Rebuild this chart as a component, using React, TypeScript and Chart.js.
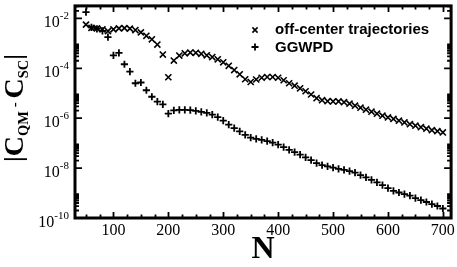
import React, { useEffect, useRef } from 'react';
import { Chart, registerables } from 'chart.js';

Chart.register(...registerables);

// N values (x)
const nValues = [
  50, 60, 70, 80, 90, 100, 110, 120, 130, 140, 150, 160, 170, 180, 190, 200, 210, 220, 230, 240,
  250, 260, 270, 280, 290, 300, 310, 320, 330, 340, 350, 360, 370, 380, 390, 400, 410, 420, 430, 440,
  450, 460, 470, 480, 490, 500, 510, 520, 530, 540, 550, 560, 570, 580, 590, 600, 610, 620, 630, 640,
  650, 660, 670, 680, 690, 700,
];

// |C_QM - C_SC| for off-center trajectories (x markers)
const offCenter = [
  5.62e-3, 4.17e-3, 3.98e-3, 3.63e-3, 3.09e-3, 3.63e-3, 3.98e-3, 4.07e-3, 3.89e-3, 3.39e-3,
  2.75e-3, 2.0e-3, 1.45e-3, 8.91e-4, 3.55e-4, 4.37e-5, 2.04e-4, 3.24e-4, 3.98e-4, 4.27e-4,
  4.17e-4, 3.8e-4, 3.31e-4, 2.82e-4, 2.29e-4, 1.74e-4, 1.26e-4, 8.51e-5, 5.75e-5, 3.63e-5,
  2.82e-5, 3.55e-5, 4.17e-5, 4.47e-5, 4.47e-5, 4.17e-5, 3.31e-5, 2.51e-5, 2.0e-5, 1.58e-5,
  1.2e-5, 8.91e-6, 6.31e-6, 5.25e-6, 4.79e-6, 4.68e-6, 4.68e-6, 4.37e-6, 3.8e-6, 3.16e-6,
  2.63e-6, 2.19e-6, 1.82e-6, 1.51e-6, 1.26e-6, 1.07e-6, 9.33e-7, 7.94e-7, 6.76e-7, 5.75e-7,
  5.01e-7, 4.37e-7, 3.8e-7, 3.31e-7, 3.02e-7, 2.69e-7,
];

// |C_QM - C_SC| for GGWPD (+ markers)
const ggwpd = [
  1.78e-2, 4.37e-3, 3.8e-3, 3.16e-3, 1.78e-3, 3.31e-4, 4.17e-4, 1.45e-4, 7.41e-5, 2.51e-5,
  2.69e-5, 1.32e-5, 7.24e-6, 4.57e-6, 3.55e-6, 1.51e-6, 2.04e-6, 2.14e-6, 2.14e-6, 2.09e-6,
  1.95e-6, 1.78e-6, 1.62e-6, 1.38e-6, 1.1e-6, 7.94e-7, 5.5e-7, 3.98e-7, 2.95e-7, 2.14e-7,
  1.66e-7, 1.48e-7, 1.35e-7, 1.2e-7, 1.05e-7, 8.71e-8, 6.92e-8, 5.37e-8, 4.37e-8, 3.47e-8,
  2.69e-8, 2.09e-8, 1.58e-8, 1.32e-8, 1.17e-8, 1.05e-8, 9.33e-9, 8.51e-9, 7.59e-9, 6.61e-9,
  5.25e-9, 4.27e-9, 3.39e-9, 2.69e-9, 2.09e-9, 1.58e-9, 1.23e-9, 1.05e-9, 9.12e-10, 7.94e-10,
  6.31e-10, 5.25e-10, 4.37e-10, 3.63e-10, 3.02e-10, 2.4e-10,
];

const seriesLabels = ['off-center trajectories', 'GGWPD'];
const xTickLabels = [100, 200, 300, 400, 500, 600, 700];
const yTickExponents = [-2, -4, -6, -8, -10];
const xTitle = 'N';

const X_MIN = 30;
const X_MAX = 715;
const Y_MIN = 1e-10;
const Y_MAX = Math.pow(10, -1.5);

const SERIF = '"Liberation Serif", "DejaVu Serif", serif';
const SANS = '"Liberation Sans", Arial, sans-serif';

const decorPlugin = {
  id: 'decor',
  afterDatasetsDraw(chart: any) {
    const { ctx, chartArea: a, scales } = chart;
    const x = scales.x;
    const y = scales.y;
    ctx.save();
    ctx.strokeStyle = '#000';
    ctx.fillStyle = '#000';

    // ticks
    ctx.lineWidth = 1.8;
    ctx.beginPath();
    for (let v = 50; v <= X_MAX; v += 25) {
      const px = Math.round(x.getPixelForValue(v)) + 0.5;
      const len = v % 100 === 0 ? 6 : 3.5;
      ctx.moveTo(px, a.bottom);
      ctx.lineTo(px, a.bottom - len);
      ctx.moveTo(px, a.top);
      ctx.lineTo(px, a.top + len);
    }
    for (const e of yTickExponents) {
      const base = Math.pow(10, e);
      const py = y.getPixelForValue(base);
      ctx.moveTo(a.left, py);
      ctx.lineTo(a.left + 7, py);
      ctx.moveTo(a.right, py);
      ctx.lineTo(a.right - 7, py);
      for (let k = 2; k <= 9; k++) {
        const v = k * base;
        if (v > Y_MAX) break;
        const pm = y.getPixelForValue(v);
        ctx.moveTo(a.left, pm);
        ctx.lineTo(a.left + 4, pm);
        ctx.moveTo(a.right, pm);
        ctx.lineTo(a.right - 4, pm);
      }
    }
    ctx.stroke();

    // frame
    ctx.lineWidth = 3;
    ctx.strokeRect(a.left, a.top, a.right - a.left, a.bottom - a.top);

    // x tick labels
    ctx.font = '16px ' + SERIF;
    ctx.textAlign = 'center';
    ctx.textBaseline = 'alphabetic';
    for (const v of xTickLabels) {
      ctx.fillText(String(v), x.getPixelForValue(v), a.bottom + 17);
    }

    // y tick labels 10^e
    ctx.textAlign = 'left';
    for (const e of yTickExponents) {
      const py = y.getPixelForValue(Math.pow(10, e));
      const expStr = '-' + String(Math.abs(e));
      ctx.font = '11px ' + SERIF;
      const wExp = ctx.measureText(expStr).width;
      ctx.font = '16px ' + SERIF;
      const wBase = ctx.measureText('10').width;
      const right = a.left - 6;
      ctx.fillText('10', right - wExp - wBase, py + 8.5);
      ctx.font = '11px ' + SERIF;
      ctx.fillText(expStr, right - wExp, py + 1);
    }

    // x title
    ctx.font = 'bold 32px ' + SERIF;
    ctx.textAlign = 'center';
    ctx.fillText(xTitle, (a.left + a.right) / 2, 258);

    // y title |C_QM - C_SC|
    const parts: [string, string, number][] = [
      ['|', 'bold 26px ' + SERIF, -1],
      ['C', 'bold 28px ' + SERIF, 0],
      ['QM', 'bold 14.5px ' + SERIF, 5],
      [' - ', 'bold 15px ' + SERIF, -4],
      ['C', 'bold 28px ' + SERIF, 0],
      ['SC', 'bold 14.5px ' + SERIF, 5],
      ['|', 'bold 26px ' + SERIF, -1],
    ];
    let total = 0;
    const widths = parts.map(([t, f]) => {
      ctx.font = f;
      const w = ctx.measureText(t).width;
      total += w;
      return w;
    });
    ctx.save();
    ctx.translate(23, 108);
    ctx.rotate(-Math.PI / 2);
    ctx.textAlign = 'left';
    let cx = -total / 2;
    parts.forEach(([t, f, dy], i) => {
      ctx.font = f;
      ctx.fillText(t, cx, dy);
      cx += widths[i];
    });
    ctx.restore();

    // legend
    const lx = 255;
    ctx.lineWidth = 1.6;
    ctx.beginPath();
    const r1 = 2.6;
    ctx.moveTo(lx - r1, 30 - r1);
    ctx.lineTo(lx + r1, 30 + r1);
    ctx.moveTo(lx + r1, 30 - r1);
    ctx.lineTo(lx - r1, 30 + r1);
    ctx.stroke();
    ctx.lineWidth = 1.8;
    ctx.beginPath();
    const r2 = 3.5;
    ctx.moveTo(lx - r2, 47);
    ctx.lineTo(lx + r2, 47);
    ctx.moveTo(lx, 47 - r2);
    ctx.lineTo(lx, 47 + r2);
    ctx.stroke();
    ctx.font = 'bold 15px ' + SANS;
    ctx.textAlign = 'left';
    ctx.textBaseline = 'middle';
    ctx.fillText(seriesLabels[0], 275, 29.5);
    ctx.fillText(seriesLabels[1], 275, 47.5);

    ctx.restore();
  },
};

export default function App() {
  const canvasRef = useRef<HTMLCanvasElement | null>(null);

  useEffect(() => {
    const canvas = canvasRef.current;
    if (!canvas) return;
    const chart = new Chart(canvas, {
      type: 'scatter',
      data: {
        datasets: [
          {
            label: seriesLabels[0],
            data: nValues.map((n, i) => ({ x: n, y: offCenter[i] })),
            pointStyle: 'crossRot',
            pointRadius: 4.3,
            pointBorderWidth: 1.6,
            borderColor: '#000',
            backgroundColor: '#000',
            showLine: false,
          },
          {
            label: seriesLabels[1],
            data: nValues.map((n, i) => ({ x: n, y: ggwpd[i] })),
            pointStyle: 'cross',
            pointRadius: 3.6,
            pointBorderWidth: 1.8,
            borderColor: '#000',
            backgroundColor: '#000',
            showLine: false,
          },
        ],
      },
      options: {
        responsive: false,
        animation: false,
        devicePixelRatio: 1,
        layout: { padding: { left: 75, right: 4, top: 1, bottom: 49 } },
        plugins: {
          legend: { display: false },
          tooltip: { enabled: false },
        },
        events: [],
        scales: {
          x: { type: 'linear', min: X_MIN, max: X_MAX, display: false },
          y: { type: 'logarithmic', min: Y_MIN, max: Y_MAX, display: false },
        },
      },
      plugins: [decorPlugin],
    });
    return () => chart.destroy();
  }, []);

  return (
    <div style={{ position: 'fixed', left: 0, top: 0, width: 457, height: 267, background: '#fff' }}>
      <canvas ref={canvasRef} width={457} height={267} style={{ width: 457, height: 267, display: 'block' }} />
    </div>
  );
}
